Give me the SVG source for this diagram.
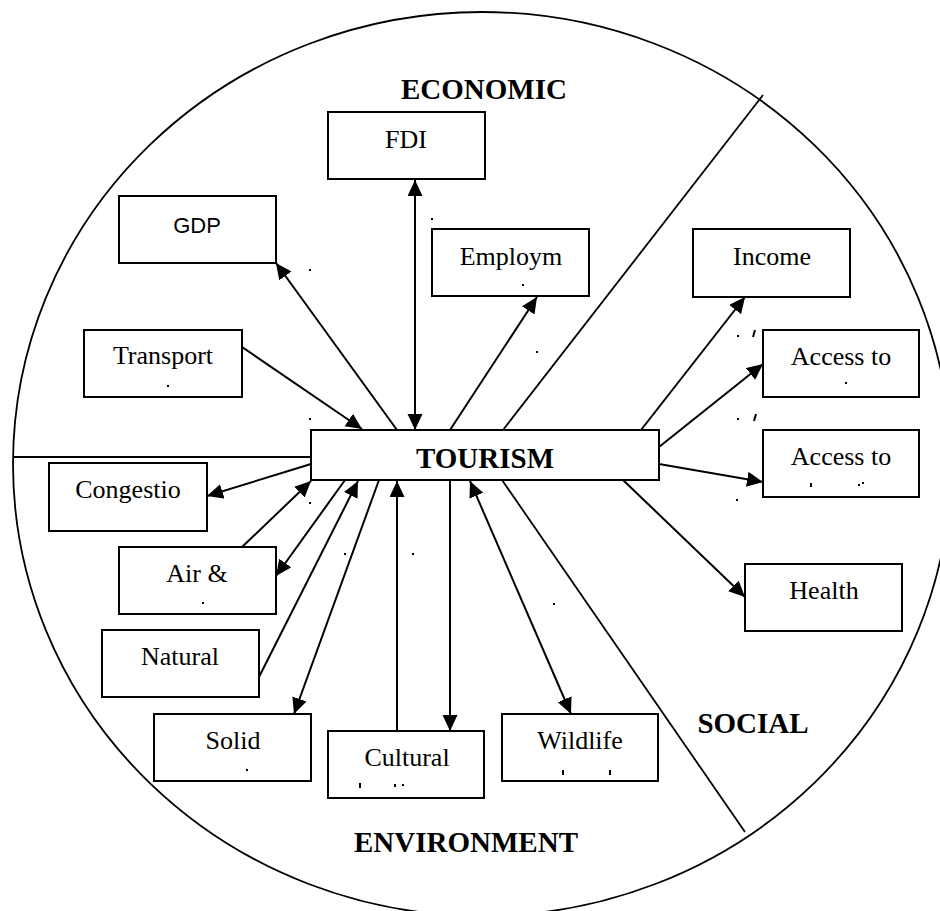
<svg xmlns="http://www.w3.org/2000/svg" width="940" height="911" viewBox="0 0 940 911">
  <style>
    .box { fill: #ffffff; stroke: #000000; stroke-width: 2; }
    .lbl { font-family: "Liberation Serif", "Times New Roman", serif; font-size: 26px; fill: #000000; text-anchor: middle; }
    .sans { font-family: "Liberation Sans", Arial, sans-serif; font-size: 22px; }
    .head { font-family: "Liberation Serif", "Times New Roman", serif; font-size: 29px; font-weight: bold; fill: #000000; text-anchor: middle; }
    .div { stroke: #000000; stroke-width: 1.8; fill: none; }
    .conn { stroke: #000000; stroke-width: 2; fill: none; marker-end: url(#arrow); }
    .both { marker-start: url(#arrow); }
    .speck { fill: #000000; }
  </style>
  <defs>
    <marker id="arrow" markerUnits="userSpaceOnUse" markerWidth="17" markerHeight="16" refX="16" refY="7.5" orient="auto-start-reverse">
      <path d="M0,0 L16,7.5 L0,15 Z" fill="#000000"/>
    </marker>
  </defs>

  <rect width="940" height="911" fill="#ffffff"/>

  <!-- outer boundary and sector dividers -->
  <g id="frame">
    <ellipse class="div" cx="482" cy="464" rx="469" ry="452"/>
    <line class="div" x1="13" y1="457" x2="311" y2="457"/>
    <line class="div" x1="503" y1="430" x2="763" y2="95"/>
    <line class="div" x1="502" y1="480" x2="745" y2="832"/>
  </g>

  <!-- sector headings -->
  <g id="headings">
    <text class="head" x="484" y="99">ECONOMIC</text>
    <text class="head" x="753" y="733">SOCIAL</text>
    <text class="head" x="466" y="852">ENVIRONMENT</text>
  </g>

  <!-- connectors -->
  <g id="connectors">
    <line class="conn" x1="397" y1="430" x2="276" y2="263"/>
    <line class="conn both" x1="415" y1="430" x2="415" y2="180"/>
    <line class="conn" x1="450" y1="430" x2="537" y2="297"/>
    <line class="conn" x1="242" y1="347" x2="362" y2="429"/>
    <line class="conn" x1="641" y1="430" x2="745" y2="297"/>
    <line class="conn" x1="659" y1="447" x2="763" y2="364"/>
    <line class="conn" x1="659" y1="464" x2="763" y2="482"/>
    <line class="conn" x1="623" y1="480" x2="745" y2="597"/>
    <line class="conn" x1="311" y1="464" x2="207" y2="496"/>
    <line class="conn" x1="242" y1="547" x2="311" y2="481"/>
    <line class="conn" x1="345" y1="480" x2="276" y2="576"/>
    <line class="conn" x1="259" y1="677" x2="358" y2="481"/>
    <line class="conn" x1="379" y1="480" x2="294" y2="714"/>
    <line class="conn" x1="397" y1="731" x2="397" y2="481"/>
    <line class="conn" x1="450" y1="480" x2="450" y2="731"/>
    <line class="conn both" x1="470" y1="481" x2="571" y2="714"/>
  </g>

  <!-- nodes -->
  <g id="tourism">
    <rect class="box" x="311" y="430" width="348" height="50"/>
    <text class="head" x="485" y="468">TOURISM</text>
  </g>
  <g id="fdi">
    <rect class="box" x="328" y="112" width="157" height="67"/>
    <text class="lbl" x="406" y="148">FDI</text>
  </g>
  <g id="gdp">
    <rect class="box" x="119" y="196" width="157" height="67"/>
    <text class="lbl sans" x="197" y="233">GDP</text>
  </g>
  <g id="employment">
    <rect class="box" x="432" y="229" width="157" height="67"/>
    <text class="lbl" x="511" y="265">Employm</text>
  </g>
  <g id="transport">
    <rect class="box" x="84" y="330" width="158" height="67"/>
    <text class="lbl" x="163" y="364">Transport</text>
  </g>
  <g id="income">
    <rect class="box" x="693" y="229" width="157" height="68"/>
    <text class="lbl" x="772" y="265">Income</text>
  </g>
  <g id="access-1">
    <rect class="box" x="763" y="330" width="156" height="67"/>
    <text class="lbl" x="841" y="365">Access to</text>
  </g>
  <g id="access-2">
    <rect class="box" x="763" y="430" width="156" height="67"/>
    <text class="lbl" x="841" y="465">Access to</text>
  </g>
  <g id="health">
    <rect class="box" x="745" y="564" width="157" height="67"/>
    <text class="lbl" x="824" y="599">Health</text>
  </g>
  <g id="congestion">
    <rect class="box" x="49" y="463" width="158" height="68"/>
    <text class="lbl" x="128" y="498">Congestio</text>
  </g>
  <g id="air">
    <rect class="box" x="119" y="547" width="157" height="67"/>
    <text class="lbl" x="197" y="582">Air &amp;</text>
  </g>
  <g id="natural">
    <rect class="box" x="102" y="630" width="157" height="67"/>
    <text class="lbl" x="180" y="665">Natural</text>
  </g>
  <g id="solid">
    <rect class="box" x="154" y="714" width="157" height="67"/>
    <text class="lbl" x="233" y="749">Solid</text>
  </g>
  <g id="cultural">
    <rect class="box" x="328" y="731" width="156" height="67"/>
    <text class="lbl" x="407" y="766">Cultural</text>
  </g>
  <g id="wildlife">
    <rect class="box" x="502" y="714" width="156" height="67"/>
    <text class="lbl" x="580" y="749">Wildlife</text>
  </g>

  <!-- clipped character remnants -->
  <g id="specks" class="speck">
    <rect x="431" y="218" width="2" height="2"/>
    <rect x="309" y="269" width="2" height="2"/>
    <rect x="522" y="284" width="2" height="2"/>
    <rect x="167" y="385" width="2" height="2"/>
    <rect x="536" y="351" width="2" height="2"/>
    <rect x="309" y="418" width="2" height="2"/>
    <rect x="309" y="502" width="2" height="2"/>
    <rect x="344" y="553" width="2" height="2"/>
    <rect x="412" y="553" width="2" height="2"/>
    <rect x="202" y="602" width="2" height="2"/>
    <rect x="246" y="769" width="2" height="2"/>
    <rect x="359" y="783" width="2" height="5"/>
    <rect x="394" y="784" width="2" height="3"/>
    <rect x="402" y="784" width="2" height="2"/>
    <rect x="562" y="770" width="2" height="5"/>
    <rect x="609" y="770" width="2" height="5"/>
    <rect x="553" y="603" width="2" height="2"/>
    <rect x="736" y="499" width="2" height="2"/>
    <rect x="737" y="335" width="2" height="2"/>
    <path d="M755,330 L753,337" stroke="#000" stroke-width="2"/>
    <rect x="737" y="418" width="2" height="2"/>
    <path d="M756,414 L754,421" stroke="#000" stroke-width="2"/>
    <rect x="845" y="382" width="2" height="2"/>
    <rect x="810" y="483" width="2" height="4"/>
    <rect x="858" y="484" width="2" height="2"/>
    <rect x="862" y="482" width="2" height="2"/>
  </g>
</svg>
